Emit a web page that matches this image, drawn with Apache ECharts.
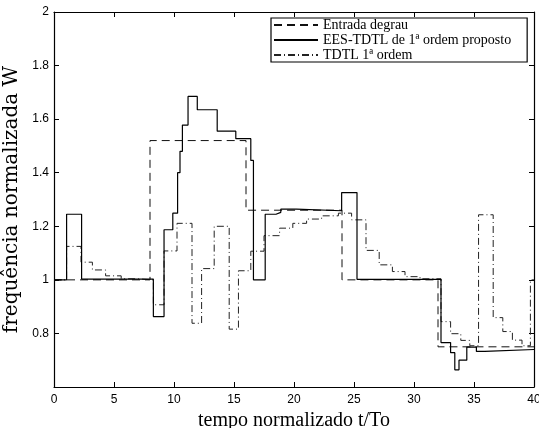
<!DOCTYPE html>
<html>
<head>
<meta charset="utf-8">
<script src="https://cdn.jsdelivr.net/npm/echarts@6/dist/echarts.min.js"></script>
<style>
html,body{margin:0;padding:0;background:#fff;}
#c{width:539px;height:428px;}
</style>
</head>
<body>
<div id="c"></div>
<script>
// ---- data (step signals: value holds from t[i] to t[i+1]) ----
const stepT = [0, 8, 16, 24, 32, 40];
const stepV = [1.0, 1.52, 1.26, 1.0, 0.75, 0.75];

const eesT = [0, 1.05, 2.3, 8.28, 9.17, 9.9, 10.3, 10.5, 10.7, 11.17, 11.94, 13.6, 15.15, 16.4, 16.62, 17.6, 18.5, 18.9, 20.2, 23.97, 25.25, 32.25, 33.05, 33.4, 33.75, 34.4, 35.2, 35.9, 40];
const eesV = [1.0, 1.245, 1.003, 0.863, 1.187, 1.249, 1.40, 1.48, 1.578, 1.685, 1.635, 1.555, 1.527, 1.446, 1.0, 1.245, 1.252, 1.264, 1.258, 1.326, 1.002, 0.766, 0.728, 0.664, 0.70, 0.749, 0.733, 0.74, 0.74];

const tdtlT = [0, 1.05, 2.25, 3.2, 4.3, 5.6, 6.9, 8.28, 9.17, 10.25, 11.5, 12.3, 13.35, 14.6, 15.37, 16.4, 17.5, 18.8, 19.9, 21.05, 22.3, 23.7, 24.8, 26.0, 27.1, 28.2, 29.25, 30.5, 32.25, 33.05, 33.9, 34.65, 35.38, 36.6, 37.4, 38.2, 39.0, 39.7, 40];
const tdtlV = [1.0, 1.125, 1.066, 1.037, 1.015, 1.004, 1.0, 0.907, 1.108, 1.211, 0.838, 1.042, 1.2, 0.816, 1.034, 1.107, 1.165, 1.193, 1.211, 1.227, 1.239, 1.249, 1.224, 1.11, 1.056, 1.031, 1.012, 1.004, 0.844, 0.799, 0.774, 0.754, 1.243, 0.859, 0.807, 0.775, 0.754, 1.0, 1.0];

const seriesNames = ['Entrada degrau', 'EES-TDTL de 1ª ordem proposto', 'TDTL 1ª ordem'];
const xTitle = 'tempo normalizado t/To';
const yTitle = 'frequência normalizada W';

const zip = (t, v) => t.map((x, i) => [x, v[i]]);

const chart = echarts.init(document.getElementById('c'), null, {renderer: 'canvas'});
const serif = '"Liberation Serif", "DejaVu Serif", serif';
const sans = '"Liberation Sans", Arial, sans-serif';

const axisCommon = {
  axisLine: {show: true, onZero: false, lineStyle: {color: '#000', width: 1.2}},
  axisTick: {show: true, inside: true, length: 5, lineStyle: {color: '#000'}},
  splitLine: {show: false}
};

chart.setOption({
  animation: false,
  backgroundColor: '#fff',
  grid: {left: 54, right: 5, top: 12, bottom: 41, containLabel: false, outerBoundsMode: 'none'},
  legend: {
    orient: 'vertical',
    left: 271,
    top: 18,
    data: seriesNames,
    itemWidth: 44,
    itemHeight: 10,
    itemGap: 1,
    padding: [0, 16, 0, 2],
    borderColor: '#000',
    borderWidth: 1.2,
    backgroundColor: '#fff',
    itemStyle: {opacity: 0, color: 'transparent', borderWidth: 0},
    textStyle: {fontFamily: serif, fontSize: 14, color: '#000', lineHeight: 14}
  },
  xAxis: [
    Object.assign({
      type: 'value', min: 0, max: 40, interval: 5, position: 'bottom',
      name: xTitle, nameLocation: 'middle', nameGap: 23,
      nameTextStyle: {fontFamily: serif, fontSize: 20, color: '#000'},
      axisLabel: {color: '#000', fontFamily: sans, fontSize: 12, margin: 7}
    }, axisCommon),
    Object.assign({
      type: 'value', min: 0, max: 40, interval: 5, position: 'top',
      axisLabel: {show: false}
    }, axisCommon)
  ],
  yAxis: [
    Object.assign({
      type: 'value', min: 0.6, max: 2, interval: 0.2, position: 'left',
      name: yTitle, nameLocation: 'middle', nameGap: 29,
      nameTextStyle: {fontFamily: '"DejaVu Serif", serif', fontSize: 20, color: '#000'},
      axisLabel: {color: '#000', fontFamily: sans, fontSize: 12, margin: 5,
        formatter: v => v < 0.7 ? '' : String(+v.toFixed(1))}
    }, axisCommon),
    Object.assign({
      type: 'value', min: 0.6, max: 2, interval: 0.2, position: 'right',
      axisLabel: {show: false}
    }, axisCommon)
  ],
  series: [
    {
      name: seriesNames[0], type: 'line', step: 'end', symbol: 'none',
      data: zip(stepT, stepV), z: 2,
      lineStyle: {color: '#111', width: 1, type: [8, 5]},
      itemStyle: {color: '#111'}
    },
    {
      name: seriesNames[1], type: 'line', step: 'end', symbol: 'none',
      data: zip(eesT, eesV), z: 4,
      lineStyle: {color: '#000', width: 1.2, type: 'solid'},
      itemStyle: {color: '#000'}
    },
    {
      name: seriesNames[2], type: 'line', step: 'end', symbol: 'none',
      data: zip(tdtlT, tdtlV), z: 3,
      lineStyle: {color: '#222', width: 1, type: [7, 3, 1, 3]},
      itemStyle: {color: '#222'}
    }
  ]
});
</script>
</body>
</html>
